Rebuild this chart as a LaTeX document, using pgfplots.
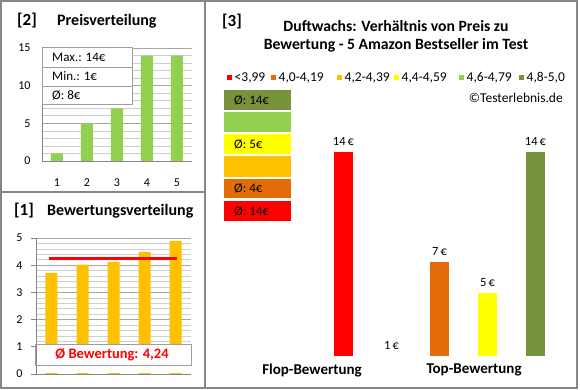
\documentclass[border=0pt]{standalone}
\usepackage{pgfplots}
\pgfplotsset{compat=1.18}
\usepackage{fontspec}
\setmainfont{Carlito}
\definecolor{frame}{HTML}{868686}
\definecolor{gridmaj}{HTML}{A6A6A6}
\definecolor{gridmin}{HTML}{CFCFCF}
\definecolor{lgreen}{HTML}{92D050}
\definecolor{gold}{HTML}{FFC000}
\definecolor{xred}{HTML}{FF0000}
\definecolor{xorange}{HTML}{E36C09}
\definecolor{xyellow}{HTML}{FFFF00}
\definecolor{olive}{HTML}{77933C}
\newcommand\fs[1]{\fontsize{#1}{#1}\selectfont}
\begin{document}
\begin{tikzpicture}
\useasboundingbox (0pt,0pt) rectangle (580pt,390pt);
\fill[white] (0pt,0pt) rectangle (580pt,390pt);

% ---------- Panel 2: Preisverteilung ----------
\begin{axis}[at={(42pt,229pt)}, anchor=south west, scale only axis,
  width=150pt, height=113pt,
  xmin=0.5, xmax=5.5, ymin=0, ymax=15,
  ytick={0,5,10,15}, minor ytick={1,2,3,4,6,7,8,9,11,12,13,14},
  xtick={1,2,3,4,5},
  ymajorgrids, yminorgrids,
  major grid style={gridmaj, line width=0.6pt},
  minor grid style={gridmin, line width=0.6pt},
  axis x line*=bottom, axis y line*=left,
  axis line style={frame, line width=0.8pt, -},
  tick style={draw=none},
  ticklabel style={font=\fs{12}},
  yticklabel style={xshift=-8pt},
  xticklabel style={yshift=-10pt},
  /pgf/number format/assume math mode=true,
  ybar, bar width=12pt, bar shift=0pt,
]
\addplot[fill=lgreen, draw=none] coordinates {(1,1) (2,5) (3,7) (4,14) (5,14)};
\end{axis}

% ---------- Panel 1: Bewertungsverteilung ----------
\begin{axis}[at={(36pt,16pt)}, anchor=south west, scale only axis,
  width=155pt, height=136pt,
  xmin=0.5, xmax=5.5, ymin=0, ymax=5,
  ytick={0,1,2,3,4,5}, minor y tick num=4,
  xtick=\empty,
  ymajorgrids, yminorgrids,
  major grid style={gridmaj, line width=0.6pt},
  minor grid style={gridmin, line width=0.6pt},
  axis x line*=bottom, axis y line*=left,
  axis line style={frame, line width=0.8pt, -},
  major tick style={draw=frame, line width=0.8pt},
  minor tick style={draw=none},
  tick align=outside, major tick length=5pt,
  ticklabel style={font=\fs{12}},
  yticklabel style={xshift=-5pt},
  /pgf/number format/assume math mode=true,
]
\addplot[ybar, bar width=12pt, bar shift=0pt, fill=gold, draw=none]
  coordinates {(1,3.72) (2,4.02) (3,4.12) (4,4.49) (5,4.89)};
\addplot[xred, line width=3.5pt] coordinates {(0.92,4.24) (5.06,4.24)};
\end{axis}

% ---------- Panel 3: Preis zu Bewertung ----------
\begin{axis}[at={(295.5pt,34pt)}, anchor=south west, scale only axis,
  width=264pt, height=219.7pt,
  xmin=0, xmax=5.5, ymin=1, ymax=15,
  axis line style={draw=none}, tick style={draw=none},
  ytick=\empty,
  xtick={0.344,3.72}, xticklabels={Flop-Bewertung,Top-Bewertung},
  xticklabel style={font=\bfseries\fs{15}},
  /pgf/number format/assume math mode=true,
  ybar, bar width=19pt, bar shift=0pt,
  nodes near coords={\pgfmathprintnumber{\pgfplotspointmeta}\,€},
  nodes near coords style={font=\fs{12.5}, yshift=3pt},
]
\addplot[fill=xred, draw=none] coordinates {(1,14)};
\addplot[fill=none, draw=none] coordinates {(2,1)};
\addplot[fill=xorange, draw=none] coordinates {(3,7)};
\addplot[fill=xyellow, draw=none] coordinates {(4,5)};
\addplot[fill=olive, draw=none] coordinates {(5,14)};
\end{axis}

% ---------- Decorations (y downwards, reference pixels) ----------
\begin{scope}[x=1pt, y=-1pt, yshift=390pt, every node/.style={inner sep=0pt}]
% frames
\draw[frame, line width=1.2pt] (1,1) rectangle (577,388);
\draw[frame, line width=1.2pt] (205,1) -- (205,388);
\draw[frame, line width=1.2pt] (1,192) -- (205,192);

% panel 2 titles and info box
\node[anchor=west, font=\bfseries\fs{17}] at (17,21) {[2]};
\node[anchor=west, font=\bfseries\fs{16}] at (57,21) {Preisverteilung};
\draw[frame!80, fill=white, line width=0.8pt] (42,47) rectangle (132,104);
\draw[frame!80, line width=0.8pt] (42,67) -- (132,67) (42,86) -- (132,86);
\node[anchor=west, font=\fs{13}] at (52,57) {Max.: 14€};
\node[anchor=west, font=\fs{13}] at (52,76.5) {Min.: 1€};
\node[anchor=west, font=\fs{13}] at (52,95.5) {Ø: 8€};

% panel 1 titles and info box
\node[anchor=west, font=\bfseries\fs{17}] at (14,211) {[1]};
\node[anchor=west, font=\bfseries\fs{16}] at (47,211) {Bewertungsverteilung};
\fill[white] (36.6,344) rectangle (191,373.4);
\draw[frame!80, line width=0.8pt] (35,344) rectangle (191,365);
\node[font=\bfseries\fs{14.5}, text=xred] at (112,355) {Ø Bewertung: 4,24};

% panel 3 titles
\node[anchor=west, font=\bfseries\fs{17}] at (222,22) {[3]};
\node[font=\bfseries\fs{15.7}] at (396,26) {Duftwachs: Verhältnis von Preis zu};
\node[font=\bfseries\fs{15.7}] at (396,45) {Bewertung - 5 Amazon Bestseller im Test};

% panel 3 legend
\foreach \xx/\cc/\tt in {227/xred/{<3,99}, 271/xorange/{4,0-4,19}, 337/gold/{4,2-4,39},
                        394/xyellow/{4,4-4,59}, 459/lgreen/{4,6-4,79}, 519/olive/{4,8-5,0}}{
  \fill[\cc] (\xx,75.5) rectangle ++(5,5);
  \node[anchor=west, font=\fs{13.5}] at (\xx+7.5,78) {\tt};
}
\node[anchor=east, font=\fs{13.5}] at (563,98) {©Testerlebnis.de};

% panel 3 colour blocks
\fill[olive]   (224,90)  rectangle (291,110);
\fill[lgreen]  (224,112) rectangle (291,132);
\fill[xyellow] (224,134) rectangle (291,154);
\fill[gold]    (224,156) rectangle (291,177);
\fill[xorange] (224,179) rectangle (291,198);
\fill[xred]    (224,201) rectangle (291,221);
\node[anchor=west, font=\fs{13}] at (234,100) {Ø: 14€};
\node[anchor=west, font=\fs{13}] at (234,144) {Ø: 5€};
\node[anchor=west, font=\fs{13}] at (234,188.5) {Ø: 4€};
\node[anchor=west, font=\fs{13}] at (234,211) {Ø: 14€};
\end{scope}
\end{tikzpicture}
\end{document}
